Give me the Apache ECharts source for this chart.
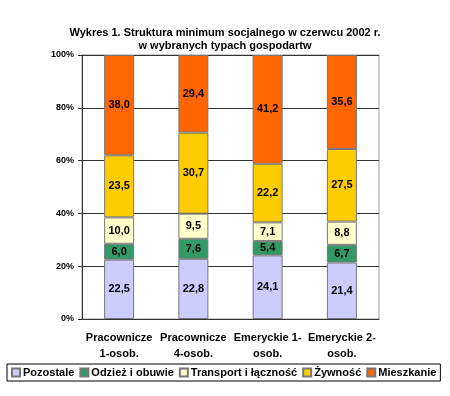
<!DOCTYPE html>
<html><head><meta charset="utf-8">
<script src="https://cdn.jsdelivr.net/npm/echarts@6/dist/echarts.min.js"></script>
<style>html,body{margin:0;padding:0;background:#fff}#c{width:450px;height:396px}</style>
</head><body><div id="c"></div>
<script>
const categories = ['Pracownicze\n1-osob.', 'Pracownicze\n4-osob.', 'Emeryckie 1-\nosob.', 'Emeryckie 2-\nosob.'];
const pozostale = [22.5, 22.8, 24.1, 21.4];
const odziez = [6.0, 7.6, 5.4, 6.7];
const transport = [10.0, 9.5, 7.1, 8.8];
const zywnosc = [23.5, 30.7, 22.2, 27.5];
const mieszkanie = [38.0, 29.4, 41.2, 35.6];
const yTicks = [0, 20, 40, 60, 80, 100];
const colors = ['#CCCCFF', '#339966', '#FFFFCC', '#FFCC00', '#FF6600'];
const legendNames = ['Pozostale', 'Odzież i obuwie', 'Transport i łączność', 'Żywność', 'Mieszkanie'];
const data = [pozostale, odziez, transport, zywnosc, mieszkanie];

const font = 'Liberation Sans, Arial, sans-serif';
const chart = echarts.init(document.getElementById('c'));
chart.setOption({
  animation: false,
  textStyle: { fontFamily: font },
  title: {
    text: 'Wykres 1. Struktura minimum socjalnego w czerwcu 2002 r.\nw wybranych typach gospodartw',
    left: 'center', top: 21,
    textStyle: { fontSize: 11, fontWeight: 'bold', color: '#000', lineHeight: 13.5, fontFamily: font }
  },
  legend: {
    data: legendNames,
    left: 7, top: 364,
    padding: [3, 4, 3, 4],
    itemWidth: 8, itemHeight: 8, itemGap: 5,
    borderColor: '#000', borderWidth: 1,
    icon: 'rect',
    textStyle: { fontSize: 11, fontWeight: 'bold', color: '#000', fontFamily: font, padding: [0, 0, 0, -2] }
  },
  grid: { left: 82, right: 71, top: 55, bottom: 77, show: true, borderColor: '#999', borderWidth: 1 },
  xAxis: {
    type: 'category', data: categories,
    axisLine: { lineStyle: { color: '#333' } },
    axisTick: { lineStyle: { color: '#333' }, length: 4 },
    axisLabel: { fontSize: 11, fontWeight: 'bold', color: '#000', lineHeight: 16, margin: 11, interval: 0 }
  },
  yAxis: {
    type: 'value', min: 0, max: 100, interval: 20,
    axisLine: { show: true, lineStyle: { color: '#333' } },
    axisTick: { show: true, lineStyle: { color: '#333' }, length: 4 },
    axisLabel: { fontSize: 9, fontWeight: 'bold', color: '#000', margin: 8,
      formatter: v => yTicks.includes(v) ? v + '%' : '' },
    splitLine: { lineStyle: { color: '#333' } }
  },
  series: legendNames.map((n, i) => ({
    name: n, type: 'bar', stack: 'a', barWidth: 30,
    data: data[i],
    itemStyle: { color: colors[i], borderColor: '#777', borderWidth: 1 },
    label: { show: true, position: 'inside', fontSize: 11, fontWeight: 'bold', color: '#000',
      formatter: p => p.value.toFixed(1).replace('.', ',') }
  }))
});
</script></body></html>
